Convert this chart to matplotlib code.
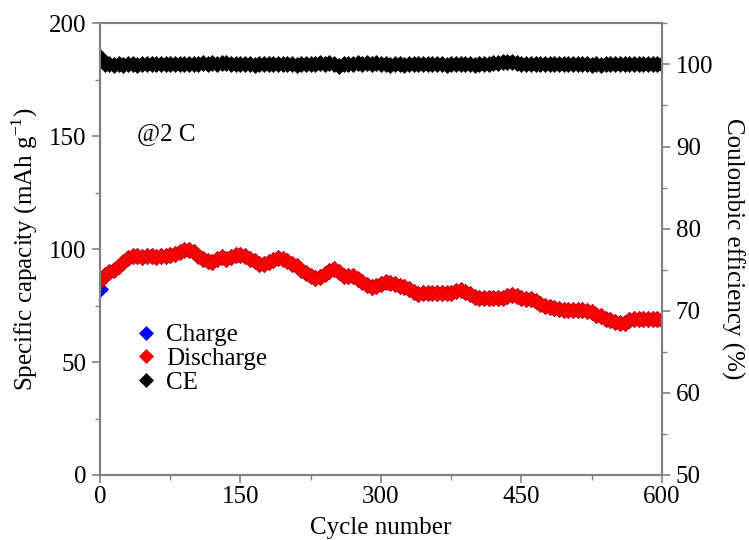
import matplotlib
matplotlib.use("Agg")
import matplotlib.pyplot as plt
from matplotlib.ticker import MultipleLocator

plt.rcParams["font.family"] = ["Liberation Serif", "DejaVu Serif"]
plt.rcParams["mathtext.fontset"] = "custom"
plt.rcParams["mathtext.rm"] = "Liberation Serif"

# Cycle numbers (every 5th cycle)
cycles = list(range(0, 601, 5))

# Discharge capacity (mAh g-1)
discharge = [
    86.0, 88.5, 90.0, 91.0, 92.5, 94.5, 96.2, 96.8, 96.8, 96.6,
    96.8, 96.8, 96.6, 97.0, 97.0, 97.3, 97.8, 98.6, 99.5, 99.6,
    98.8, 97.2, 95.6, 94.6, 94.4, 95.5, 96.6, 95.8, 96.4, 97.3,
    97.6, 97.0, 95.8, 94.6, 93.6, 93.4, 94.2, 95.3, 96.2, 95.8,
    94.8, 93.6, 92.4, 90.8, 89.4, 88.2, 87.4, 87.8, 88.8, 90.4,
    91.2, 89.8, 88.2, 88.2, 88.0, 87.0, 85.6, 84.2, 83.2, 83.6,
    84.6, 85.3, 85.2, 84.6, 83.8, 83.4, 82.2, 81.0, 80.2, 80.5,
    80.8, 80.8, 80.7, 80.8, 80.8, 80.6, 81.5, 82.0, 81.2, 80.2,
    79.0, 78.4, 78.2, 78.3, 78.2, 78.3, 78.6, 79.4, 79.8, 79.2,
    78.4, 77.9, 78.0, 77.0, 75.8, 75.0, 74.4, 74.0, 73.6, 73.2,
    73.0, 73.0, 73.0, 73.1, 72.8, 72.0, 71.0, 70.2, 69.2, 68.6,
    67.8, 67.3, 67.5, 68.6, 69.2, 69.2, 69.2, 69.1, 69.2, 69.0,
    68.6,
]

# Charge capacity (mAh g-1): first cycle differs, then overlaps discharge
charge = [82.5] + discharge[1:]

# Coulombic efficiency (%)
ce = [
    100.9, 100.0, 100.0, 99.95, 100.0, 99.95, 100.0, 100.0, 99.95, 100.0,
    100.0, 100.05, 100.0, 100.0, 100.05, 100.0, 100.05, 100.1, 100.05, 100.1,
    100.05, 100.1, 100.15, 100.1, 100.2, 100.1, 100.15, 100.2, 100.1, 100.05,
    100.1, 100.0, 100.05, 99.95, 100.05, 100.1, 100.0, 100.05, 100.1, 100.05,
    100.0, 100.05, 99.95, 100.0, 100.05, 100.0, 100.1, 100.15, 100.1, 100.2,
    100.1, 99.85, 100.0, 100.1, 100.05, 100.15, 100.1, 100.2, 100.1, 100.15,
    100.05, 100.1, 99.95, 100.0, 100.05, 99.95, 100.1, 100.0, 100.05, 100.1,
    100.05, 100.0, 100.1, 100.05, 99.95, 100.0, 100.1, 100.05, 100.1, 100.0,
    99.95, 100.0, 100.05, 100.1, 100.15, 100.2, 100.25, 100.3, 100.3, 100.2,
    100.05, 100.0, 100.05, 100.0, 100.05, 100.0, 100.05, 100.1, 100.05, 100.1,
    100.05, 100.0, 100.1, 100.05, 100.0, 99.95, 100.0, 99.95, 100.0, 100.05,
    100.0, 100.05, 100.0, 100.05, 100.05, 100.0, 100.05, 100.0, 100.0, 100.05,
    100.0,
]

x_ticks = [0, 150, 300, 450, 600]
left_ticks = [0, 50, 100, 150, 200]
right_ticks = [50, 60, 70, 80, 90, 100]

spine_gray = "#808080"
fs = 18

fig = plt.figure(figsize=(7.49, 5.40), dpi=100)
ax = fig.add_axes([0.1335, 0.1204, 0.7503, 0.8363])
ax2 = ax.twinx()

ms = 8
h_c, = ax.plot(cycles, charge, linestyle="none", marker="D", ms=ms,
               color="#0000ff", markeredgecolor="#0000cc", markeredgewidth=0.5,
               label="Charge", zorder=2)
h_d, = ax.plot(cycles, discharge, linestyle="none", marker="D", ms=ms,
               color="#ff0000", markeredgecolor="#d00000", markeredgewidth=0.5,
               label="Discharge", zorder=3)
h_ce, = ax2.plot(cycles, ce, linestyle="none", marker="D", ms=ms,
                 color="black", markeredgecolor="black", markeredgewidth=0.5,
                 label="CE")

ax.set_xlim(0, 600)
ax.set_ylim(0, 200)
ax2.set_ylim(50, 105)

ax.set_xticks(x_ticks)
ax.set_yticks(left_ticks)
ax2.set_yticks(right_ticks)
ax.xaxis.set_minor_locator(MultipleLocator(75))
ax.yaxis.set_minor_locator(MultipleLocator(25))
ax2.yaxis.set_minor_locator(MultipleLocator(5))

for a in (ax, ax2):
    for s in a.spines.values():
        s.set_color(spine_gray)
        s.set_linewidth(1.5)
    a.tick_params(which="major", direction="out", length=6, width=1.2,
                  color=spine_gray, labelsize=fs, labelcolor="black", pad=4)
    a.tick_params(which="minor", direction="out", length=3.5, width=1.0,
                  color=spine_gray)
ax.tick_params(axis="x", which="major", pad=2)

ax.set_xlabel("Cycle number", fontsize=fs)
ax.xaxis.set_label_coords(0.5, -0.093)
ax.set_ylabel("Specific capacity (mAh g$^{-1}$)", fontsize=fs, labelpad=6)
ax2.set_ylabel("Coulombic efficiency (%)", fontsize=fs, rotation=270,
               labelpad=22)

ax.text(39, 151, "@2 C", fontsize=fs, va="center", ha="left")

ax.legend([h_c, h_d, h_ce], ["Charge", "Discharge", "CE"],
          loc="upper left", bbox_to_anchor=(0.047, 0.357), frameon=False,
          fontsize=fs, handlelength=0.8, handletextpad=0.4,
          labelspacing=0.05, borderaxespad=0, markerscale=0.85)

fig.savefig("out.png", dpi=100)
